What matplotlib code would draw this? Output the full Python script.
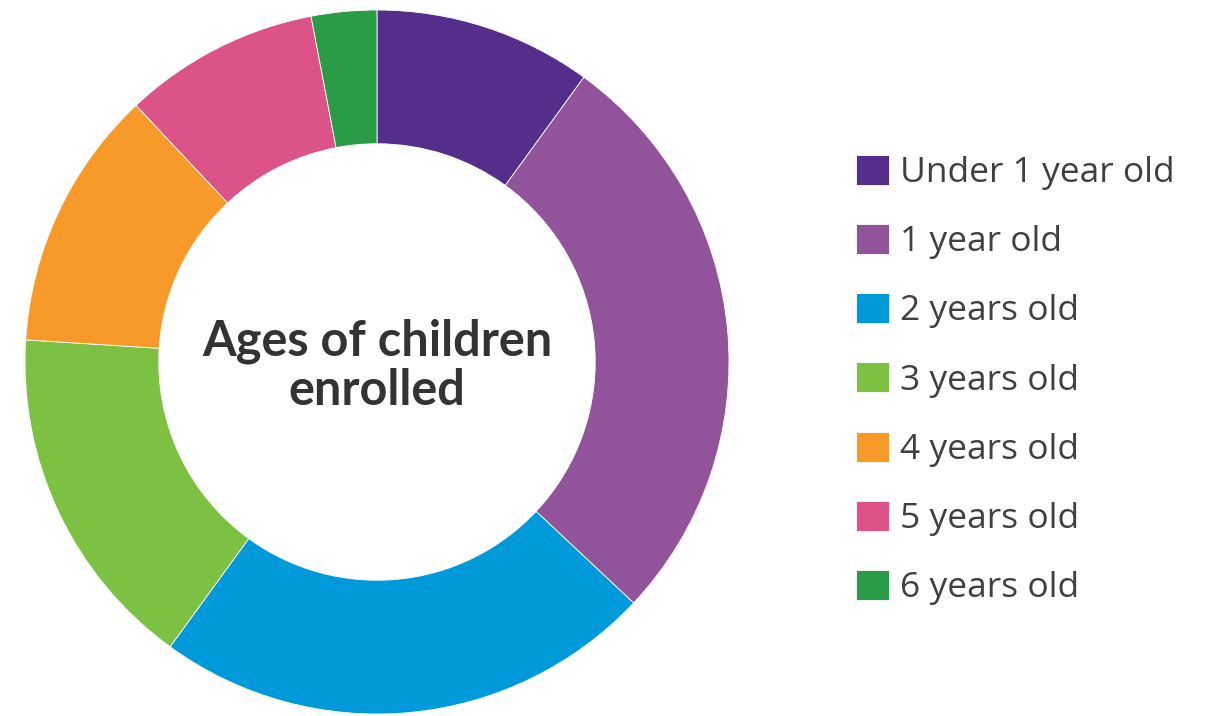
import matplotlib.pyplot as plt

# === Data ===
labels = ['Under 1 year old', '1 year old', '2 years old', '3 years old',
          '4 years old', '5 years old', '6 years old']
shares = [10, 27, 23, 16, 12, 9, 3]
colors = ['#552D8A', '#91549A', '#009ADB', '#7DC143', '#F79A2A', '#DB5388', '#2A9B47']

W, H = 1212, 716
fig = plt.figure(figsize=(W / 100, H / 100), dpi=100)

# donut centre (377, 362) px from top-left, outer radius 352 px
cx, cy, R = 377, 362, 352
ax = fig.add_axes([(cx - R) / W, (H - cy - R) / H, 2 * R / W, 2 * R / H])
wedges, _ = ax.pie(shares, colors=colors, startangle=90, counterclock=False,
                   radius=1.0, wedgeprops=dict(width=0.38, edgecolor='white', linewidth=0.6))
ax.set_xlim(-1, 1)
ax.set_ylim(-1, 1)
ax.set_aspect('equal')
ax.axis('off')

ax.text(0, -0.01, 'Ages of children\nenrolled', ha='center', va='center',
        fontsize=35, fontweight='bold', family='Lato', color='#333333',
        linespacing=1.1)

fig.legend(wedges, labels, loc='center left', bbox_to_anchor=(856 / W, 1 - 380 / H),
           frameon=False, handlelength=0.93, handleheight=0.93,
           handletextpad=0.31, labelspacing=0.96, borderpad=0, borderaxespad=0,
           prop={'family': 'Open Sans', 'size': 25.5}, labelcolor='#404040')

fig.savefig('out.png', dpi=100)
